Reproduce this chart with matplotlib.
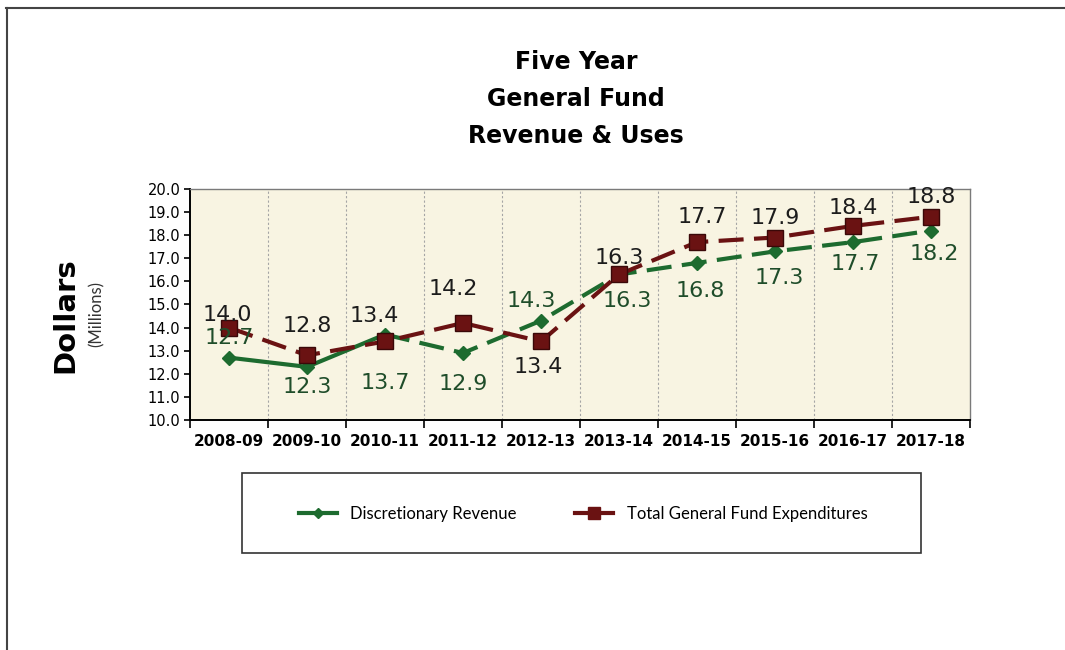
import matplotlib.pyplot as plt
from matplotlib.lines import Line2D
from matplotlib.patches import Rectangle
import numpy as np

# fiscal years and values in millions of dollars
years = ["2008-09", "2009-10", "2010-11", "2011-12", "2012-13",
         "2013-14", "2014-15", "2015-16", "2016-17", "2017-18"]
revenue = [12.7, 12.3, 13.7, 12.9, 14.3, 16.3, 16.8, 17.3, 17.7, 18.2]
expenditures = [14.0, 12.8, 13.4, 14.2, 13.4, 16.3, 17.7, 17.9, 18.4, 18.8]

# label placement (pixels from each point)
rev_offsets = [(0, 20), (0, -20), (0, -48), (0, -31), (-10, 20),
               (8, -27), (3, -28), (4, -27), (2, -22), (3, -23)]
exp_offsets = [(-2, 13), (0, 29), (-11, 25), (-10, 34), (-3, -26),
               (0, 16), (5, 25), (0, 20), (0, 18), (0, 20)]

GREEN = "#1d6b2f"
MAROON = "#6a1212"
BG = "#f8f4e2"

fig = plt.figure(figsize=(10.65, 6.5), dpi=100)
ax = fig.add_axes([190 / 1065, 1 - 420 / 650, 780 / 1065, 231 / 650])
ax.set_facecolor(BG)

x = np.arange(len(years))

# revenue: solid for the first two segments, dashed afterwards
ax.plot(x[:3], revenue[:3], color=GREEN, lw=3, solid_capstyle="butt", zorder=3)
ax.plot(x[2:], revenue[2:], color=GREEN, lw=3, dashes=(6, 2.5), zorder=3)
ax.plot(x, revenue, ls="none", marker="D", ms=7, color=GREEN, zorder=4)

ax.plot(x, expenditures, color=MAROON, lw=3, dashes=(6, 2.5), zorder=5)
ax.plot(x, expenditures, ls="none", marker="s", ms=11, color=MAROON,
        markeredgecolor="#3a0808", zorder=6)

for xi, v, (dx, dy) in zip(x, revenue, rev_offsets):
    ax.annotate(f"{v:.1f}", (xi, v), xytext=(dx, dy), textcoords="offset pixels",
                ha="center", va="center", fontsize=16, color="#1f4d2a", zorder=7)
for xi, v, (dx, dy) in zip(x, expenditures, exp_offsets):
    ax.annotate(f"{v:.1f}", (xi, v), xytext=(dx, dy), textcoords="offset pixels",
                ha="center", va="center", fontsize=16, color="#1c1c1c", zorder=7)

ax.set_xlim(-0.5, len(years) - 0.5)
ax.set_ylim(10, 20)
ax.set_yticks(np.arange(10, 20.5, 1))
ax.set_yticklabels([f"{t:.1f}" for t in np.arange(10, 20.5, 1)], fontsize=10.5)

# category labels between boundary ticks
ax.set_xticks(x)
ax.set_xticklabels(years, fontsize=11, fontweight="bold")
ax.tick_params(axis="x", which="major", length=0, pad=10)
ax.set_xticks(np.arange(-0.5, len(years)), minor=True)
ax.tick_params(axis="x", which="minor", length=6, width=1.2, direction="out")
ax.tick_params(axis="y", length=4, width=1.2, direction="out", pad=3)
for b in np.arange(0.5, len(years) - 0.5):
    ax.axvline(b, color="#a5a5a5", lw=0.8, ls=(0, (2, 2)), zorder=1)

for side in ("top", "right"):
    ax.spines[side].set_color("#7a7a7a")
    ax.spines[side].set_linewidth(1)
for side in ("left", "bottom"):
    ax.spines[side].set_color("black")
    ax.spines[side].set_linewidth(1.4)

fig.text(576 / 1065, 1 - 99 / 650, "Five Year\nGeneral Fund\nRevenue & Uses",
         ha="center", va="center", fontsize=17, fontweight="bold",
         linespacing=1.7)

fig.text(65 / 1065, 1 - 315 / 650, "Dollars", rotation=90, ha="center",
         va="center", fontsize=21, fontweight="bold")
fig.text(97 / 1065, 1 - 314 / 650, "(Millions)", rotation=90, ha="center",
         va="center", fontsize=12, color="#333333", family="Lato")

# legend inside a wide framed box
fig.patches.append(Rectangle((242 / 1065, 1 - 553 / 650), 679 / 1065, 80 / 650,
                             transform=fig.transFigure, fill=False,
                             edgecolor="#333333", lw=1.2))
handles = [
    Line2D([], [], color=GREEN, lw=3, marker="D", ms=5),
    Line2D([], [], color=MAROON, lw=3, marker="s", ms=8),
]
leg = fig.legend(handles, ["Discretionary Revenue", "Total General Fund Expenditures"],
                 loc="center", bbox_to_anchor=(583 / 1065, 1 - 514 / 650), ncol=2,
                 frameon=False, handlelength=2.3, columnspacing=3.5,
                 prop={"family": "Lato", "size": 12})

# page border along the top and left edges
fig.add_artist(Line2D([6 / 1065, 1], [1 - 8 / 650, 1 - 8 / 650],
                      transform=fig.transFigure, color="#444444", lw=1.5))
fig.add_artist(Line2D([7 / 1065, 7 / 1065], [0, 1 - 8 / 650],
                      transform=fig.transFigure, color="#444444", lw=1.5))

fig.savefig("out.png", dpi=100)
